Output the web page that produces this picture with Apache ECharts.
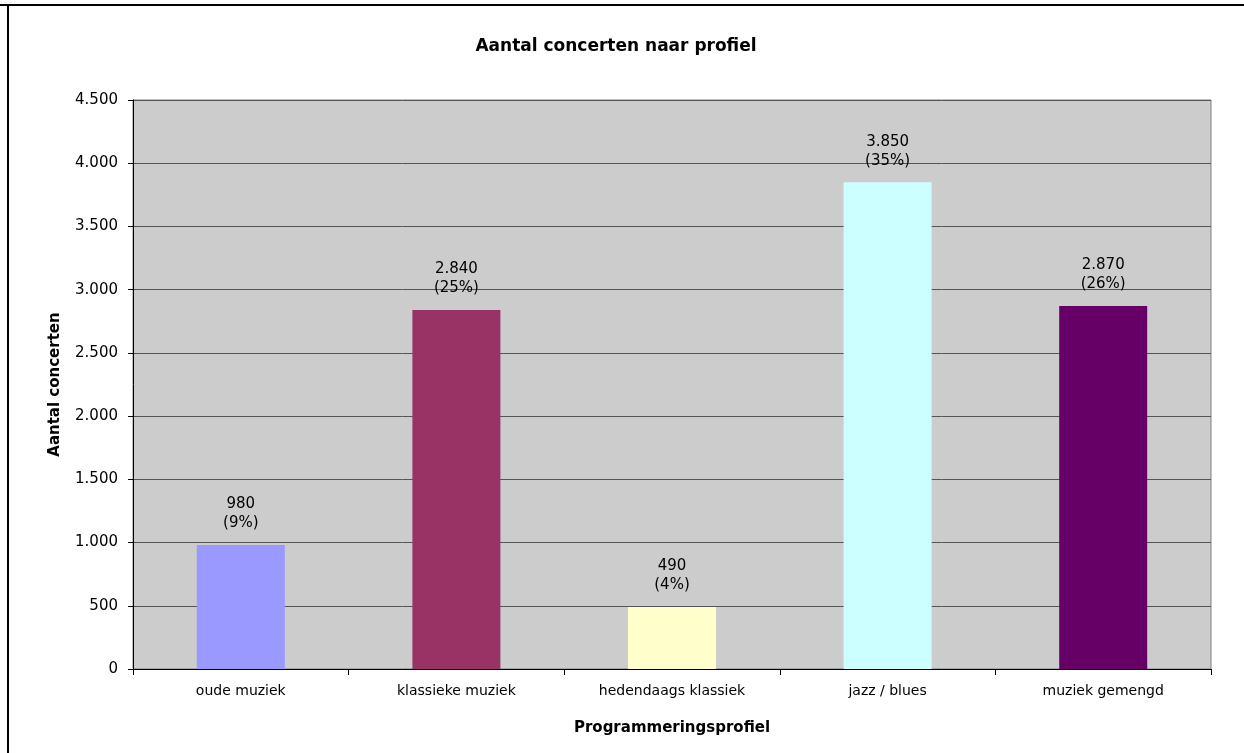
<!DOCTYPE html>
<html>
<head>
<meta charset="utf-8">
<script src="https://cdn.jsdelivr.net/npm/echarts@6/dist/echarts.min.js"></script>
<style>
html,body{margin:0;padding:0;background:#fff;}
#chart{width:1244px;height:753px;}
</style>
</head>
<body>
<div id="chart"></div>
<script>
const categories = ['oude muziek', 'klassieke muziek', 'hedendaags klassiek', 'jazz / blues', 'muziek gemengd'];
const values = [980, 2840, 490, 3850, 2870];
const shares = ['9%', '25%', '4%', '35%', '26%'];
const barColors = ['#9999FF', '#993366', '#FFFFCC', '#CCFFFF', '#660066'];
const yTicks = { min: 0, max: 4500, interval: 500 };

function fmt(n) {
  return String(n).replace(/\B(?=(\d{3})+(?!\d))/g, '.');
}

const font = 'DejaVu Sans, Verdana, sans-serif';
const chart = echarts.init(document.getElementById('chart'));
chart.setOption({
  animation: false,
  backgroundColor: '#fff',
  textStyle: { fontFamily: font },
  title: {
    text: 'Aantal concerten naar profiel',
    left: 611, top: 33, textAlign: 'center',
    textStyle: { fontFamily: font, fontSize: 17, fontWeight: 'bold', color: '#000' }
  },
  graphic: [
    { type: 'rect', shape: { x: 0, y: 4, width: 1244, height: 2 }, style: { fill: '#000' }, z: 100 },
    { type: 'rect', shape: { x: 7, y: 4, width: 2, height: 749 }, style: { fill: '#000' }, z: 100 }
  ],
  grid: {
    left: 133, top: 100, right: 33, bottom: 84,
    show: true, backgroundColor: '#CCCCCC', borderColor: '#808080', borderWidth: 1
  },
  xAxis: {
    type: 'category',
    data: categories,
    name: 'Programmeringsprofiel',
    nameLocation: 'middle',
    nameGap: 52,
    nameTextStyle: { fontFamily: font, fontSize: 15, fontWeight: 'bold', color: '#000' },
    axisLine: { lineStyle: { color: '#000', width: 1 } },
    axisTick: { show: true, alignWithLabel: false, length: 6, lineStyle: { color: '#000' } },
    axisLabel: { fontFamily: font, fontSize: 14, color: '#000', margin: 15 },
    splitLine: { show: false }
  },
  yAxis: {
    type: 'value',
    min: yTicks.min, max: yTicks.max, interval: yTicks.interval,
    name: 'Aantal concerten',
    nameLocation: 'middle',
    nameGap: 70,
    nameTextStyle: { fontFamily: font, fontSize: 15, fontWeight: 'bold', color: '#000' },
    axisLine: { show: true, lineStyle: { color: '#000', width: 1 } },
    axisTick: { show: true, length: 5, lineStyle: { color: '#000' } },
    axisLabel: { fontFamily: font, fontSize: 15, color: '#000', margin: 15, formatter: v => fmt(v) },
    splitLine: { show: true, lineStyle: { color: '#555555', width: 1 } }
  },
  series: [{
    type: 'bar',
    data: values.map((v, i) => ({ value: v, itemStyle: { color: barColors[i] } })),
    barWidth: 88,
    label: {
      show: true,
      position: 'top',
      distance: 12,
      fontFamily: font,
      fontSize: 15,
      lineHeight: 19,
      color: '#000',
      align: 'center',
      formatter: p => fmt(p.value) + '\n(' + shares[p.dataIndex] + ')'
    }
  }]
});
</script>
</body>
</html>
